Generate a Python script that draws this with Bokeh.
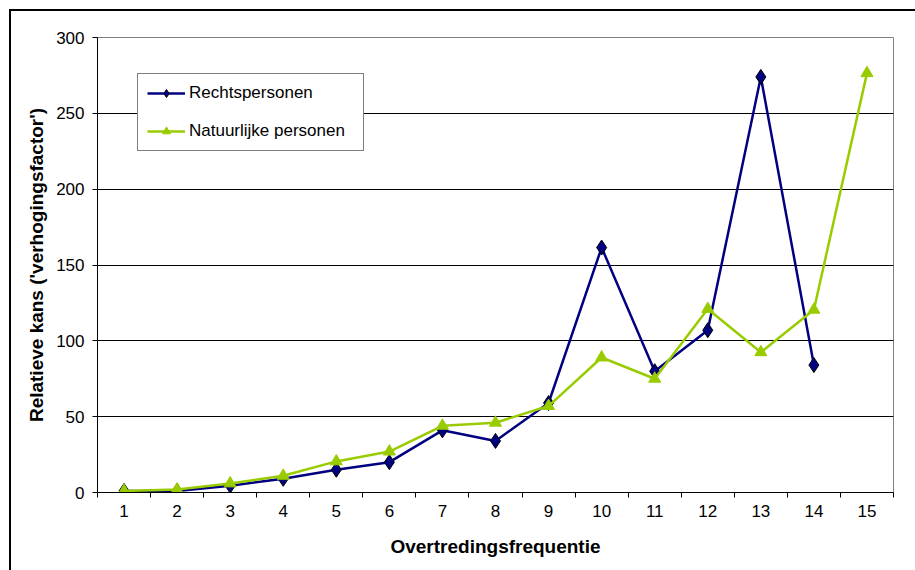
from bokeh.plotting import figure
from bokeh.models import FixedTicker, Range1d, Legend, LegendItem, InlineStyleSheet
from bokeh.embed import file_html
from bokeh.resources import INLINE

categories = list(range(1, 16))
rechtspersonen = [1, 1, 4.5, 9, 15, 20, 41, 34, 59, 161.5, 80, 107, 274, 84, float("nan")]
natuurlijke = [1, 2, 6, 11, 20.5, 27, 44, 46, 57, 89, 75, 121, 92.5, 120.5, 276.5]
y_ticks = [0, 50, 100, 150, 200, 250, 300]

FONT = "Liberation Sans"

p = figure(width=915, height=570, output_backend="svg", toolbar_location=None,
           x_range=Range1d(0.5, 15.5), y_range=Range1d(0, 300),
           min_border_left=97, min_border_right=22, min_border_top=37, min_border_bottom=78)
p.background_fill_color = "white"
p.border_fill_color = "white"
p.outline_line_color = "#808080"
p.outline_line_width = 1

# axes
p.xaxis.ticker = FixedTicker(ticks=categories, minor_ticks=[c - 0.5 for c in categories] + [15.5])
p.xaxis.major_tick_out = 0
p.xaxis.major_tick_in = 0
p.xaxis.minor_tick_out = 5
p.xaxis.minor_tick_in = 0
p.xaxis.minor_tick_line_color = "black"
p.xaxis.axis_line_color = "black"
p.xaxis.major_label_standoff = 7
p.xaxis.axis_label = "Overtredingsfrequentie"
p.xaxis.axis_label_standoff = 16

p.yaxis.ticker = FixedTicker(ticks=y_ticks, minor_ticks=[])
p.yaxis.major_tick_out = 5
p.yaxis.major_tick_in = 0
p.yaxis.major_tick_line_color = "black"
p.yaxis.axis_line_color = "black"
p.yaxis.major_label_standoff = 8
p.yaxis.axis_label = "Relatieve kans ('verhogingsfactor')"
p.yaxis.axis_label_standoff = 6

for ax in (p.xaxis, p.yaxis):
    ax.major_label_text_font = FONT
    ax.major_label_text_font_size = "17px"
    ax.major_label_text_color = "black"
    ax.axis_label_text_font = FONT
    ax.axis_label_text_font_size = "19px"
    ax.axis_label_text_font_style = "bold"
    ax.axis_label_text_color = "black"

p.xgrid.grid_line_color = None
p.ygrid.ticker = FixedTicker(ticks=y_ticks)
p.ygrid.grid_line_color = "black"
p.ygrid.grid_line_width = 1

blue = "#000080"
green = "#99CC00"

r1l = p.line(categories, rechtspersonen, line_color=blue, line_width=2.5)
r1m = p.scatter(categories, rechtspersonen, marker="diamond", size=15, fill_color=blue,
                line_color="black", line_width=1)
r2l = p.line(categories, natuurlijke, line_color=green, line_width=2.5)
r2m = p.scatter(categories, natuurlijke, marker="triangle", size=12, fill_color=green,
                line_color=green, line_width=1)

legend = Legend(items=[LegendItem(label="Rechtspersonen", renderers=[r1l, r1m]),
                       LegendItem(label="Natuurlijke personen", renderers=[r2l, r2m])],
                location=(40, 341))
legend.label_text_font = FONT
legend.label_text_font_size = "17px"
legend.label_text_color = "black"
legend.border_line_color = "black"
legend.border_line_width = 1
legend.background_fill_color = "white"
legend.background_fill_alpha = 1
legend.glyph_width = 38
legend.glyph_height = 20
legend.label_standoff = 4
legend.label_height = 20
legend.spacing = 18
legend.padding = 9
legend.margin = 0
legend.label_width = 165
p.add_layout(legend)

# outer chart border (left and top edges, the rest lies outside the window)
p.stylesheets = [InlineStyleSheet(css="""
:host::after {
  content: '';
  position: absolute;
  left: 9px; top: 9px;
  width: 906px; height: 561px;
  box-sizing: border-box;
  border-left: 2px solid black;
  border-top: 2px solid black;
  pointer-events: none;
}
""")]

open("out.html", "w").write(file_html(p, INLINE))
